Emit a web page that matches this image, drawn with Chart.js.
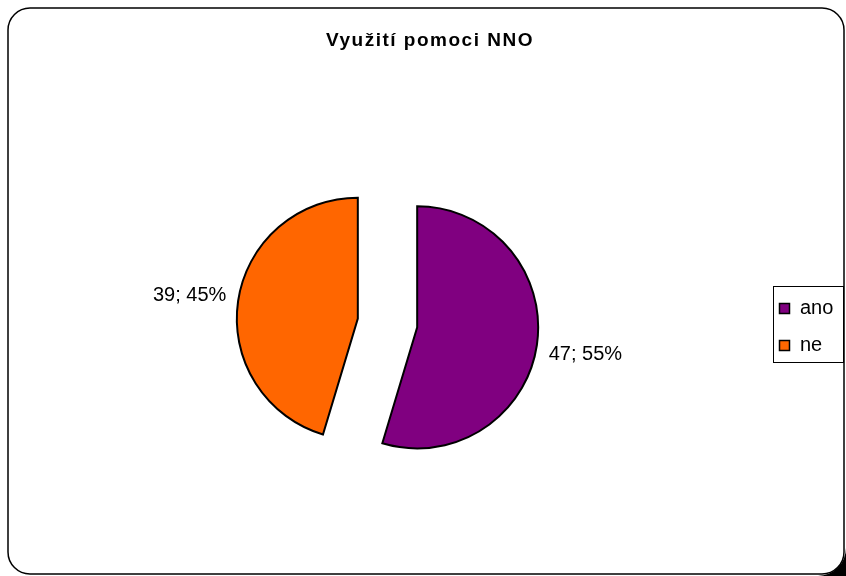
<!DOCTYPE html>
<html>
<head>
<meta charset="utf-8">
<script src="https://cdn.jsdelivr.net/npm/chart.js@4"></script>
<style>
html,body{margin:0;padding:0;background:#fff;}
#wrap{width:846px;height:576px;position:relative;}
</style>
</head>
<body>
<div id="wrap"><canvas id="c" width="846" height="576"></canvas></div>
<script>
const chartTitle = "Využití pomoci NNO";
const categories = ["ano", "ne"];
const values = [47, 39];
const sliceColors = ["#800080", "#FF6600"];

const total = values.reduce((a, b) => a + b, 0);
const EXPLODE = 30;

const framePlugin = {
  id: 'frame',
  beforeDraw(chart) {
    const ctx = chart.ctx;
    ctx.save();
    ctx.fillStyle = '#fff';
    ctx.fillRect(0, 0, 846, 576);
    // black outside of bottom-right corner (shadow-like)
    ctx.fillStyle = '#000';
    ctx.beginPath();
    ctx.moveTo(846, 548);
    ctx.lineTo(846, 576);
    ctx.lineTo(818, 576);
    ctx.arc(818, 548, 28, Math.PI / 2, 0, true);
    ctx.closePath();
    ctx.fill();
    // rounded frame
    ctx.strokeStyle = '#000';
    ctx.lineWidth = 1.5;
    const x = 8, y = 8, w = 836, h = 566, r = 22;
    ctx.beginPath();
    ctx.moveTo(x + r, y);
    ctx.lineTo(x + w - r, y);
    ctx.arcTo(x + w, y, x + w, y + r, r);
    ctx.lineTo(x + w, y + h - r);
    ctx.arcTo(x + w, y + h, x + w - r, y + h, r);
    ctx.lineTo(x + r, y + h);
    ctx.arcTo(x, y + h, x, y + h - r, r);
    ctx.lineTo(x, y + r);
    ctx.arcTo(x, y, x + r, y, r);
    ctx.closePath();
    ctx.stroke();
    ctx.restore();
  },
  beforeDatasetDraw(chart, args) {
    const ctx = chart.ctx;
    const meta = args.meta;
    meta.data.forEach((arc) => {
      const p = arc.getProps(['startAngle', 'endAngle'], true);
      const mid = (p.startAngle + p.endAngle) / 2;
      ctx.save();
      ctx.translate(Math.cos(mid) * EXPLODE, Math.sin(mid) * EXPLODE);
      arc.draw(ctx, chart.chartArea);
      ctx.restore();
    });
    return false;
  },
  afterDraw(chart) {
    const ctx = chart.ctx;
    ctx.save();
    // title
    ctx.fillStyle = '#000';
    ctx.font = 'bold 19px "Liberation Sans", Arial, sans-serif';
    ctx.textAlign = 'center';
    ctx.textBaseline = 'alphabetic';
    try { ctx.letterSpacing = '1.5px'; } catch (e) {}
    ctx.fillText(chartTitle, 430, 46);
    try { ctx.letterSpacing = '0px'; } catch (e) {}

    // data labels
    ctx.font = '20px "Liberation Sans", Arial, sans-serif';
    ctx.textBaseline = 'middle';
    const meta = chart.getDatasetMeta(0);
    meta.data.forEach((arc, i) => {
      const p = arc.getProps(['x', 'y', 'startAngle', 'endAngle', 'outerRadius'], true);
      const mid = (p.startAngle + p.endAngle) / 2;
      const d = p.outerRadius + EXPLODE + 49;
      const lx = p.x + Math.cos(mid) * d;
      const ly = p.y + Math.sin(mid) * d + 2;
      const pct = Math.round(values[i] / total * 100);
      ctx.fillText(values[i] + '; ' + pct + '%', lx, ly);
    });

    // legend
    ctx.strokeStyle = '#000';
    ctx.lineWidth = 1;
    ctx.strokeRect(773.5, 286.5, 70, 76);
    ctx.textAlign = 'left';
    ctx.textBaseline = 'alphabetic';
    ctx.font = '20px "Liberation Sans", Arial, sans-serif';
    categories.forEach((c, i) => {
      const yy = 303 + i * 37;
      ctx.fillStyle = sliceColors[i];
      ctx.fillRect(779.5, yy + 0.5, 10, 10);
      ctx.strokeStyle = '#000';
      ctx.lineWidth = 1.5;
      ctx.strokeRect(779.5, yy + 0.5, 10, 10);
      ctx.fillStyle = '#000';
      ctx.fillText(c, 800, yy + 11);
    });
    ctx.restore();
  }
};

new Chart(document.getElementById('c'), {
  type: 'pie',
  data: {
    labels: categories,
    datasets: [{
      data: values,
      backgroundColor: sliceColors,
      borderColor: '#000',
      borderWidth: 2,
      borderJoinStyle: 'miter',
      offset: 0,
      hoverOffset: 0
    }]
  },
  options: {
    responsive: false,
    animation: false,
    devicePixelRatio: 1,
    radius: 121,
    layout: { padding: { left: 0, right: 71, top: 70, bottom: 0 } },
    plugins: {
      legend: { display: false },
      title: { display: false },
      tooltip: { enabled: false }
    }
  },
  plugins: [framePlugin]
});
</script>
</body>
</html>
